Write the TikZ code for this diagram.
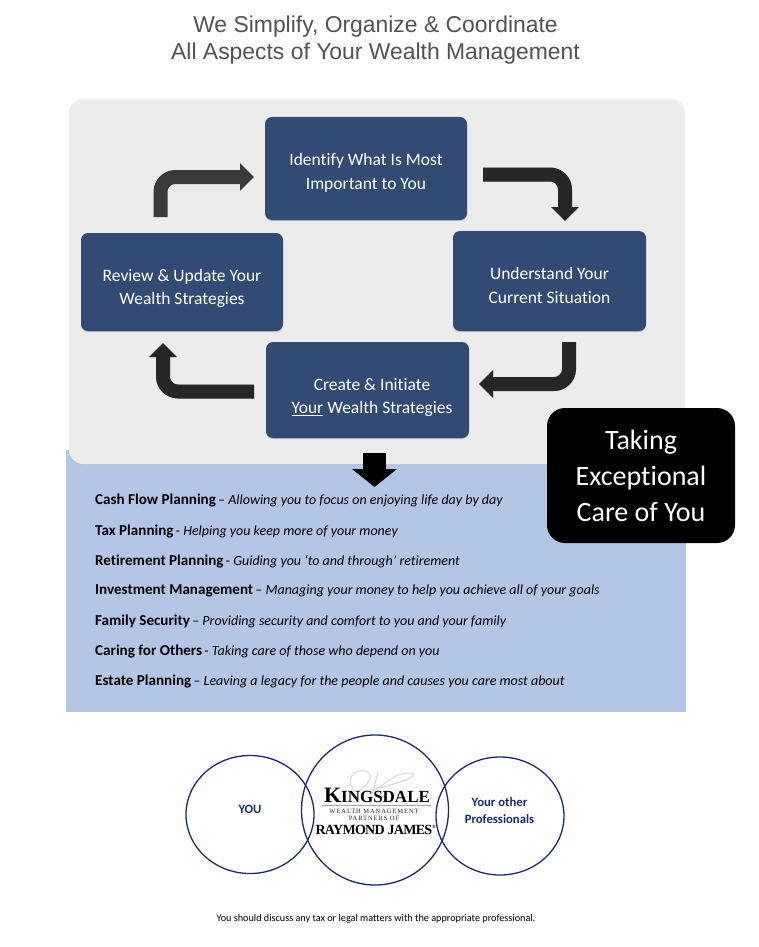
\documentclass[tikz,border=0pt]{standalone}
\usepackage{fontspec}
\setmainfont{Carlito}[Ligatures=NoCommon]
\newfontfamily\titlefont{Liberation Sans}
\newfontfamily\logofont{Liberation Serif}
\newfontfamily\logospaced[LetterSpace=14]{Liberation Serif}
\newfontfamily\rjfont[LetterSpace=-5]{Liberation Serif}
\usetikzlibrary{arrows.meta,shadows,calc,shapes.geometric}
\definecolor{panelgray}{HTML}{ECECEC}
\definecolor{panelblue}{HTML}{B3C6E5}
\definecolor{boxblue}{HTML}{324B74}
\definecolor{ringblue}{HTML}{1A2A6C}
\definecolor{arrowdark}{HTML}{262626}
\definecolor{arrowmid}{HTML}{3A3A3A}
\newcommand{\planbold}[1]{{\fontsize{15.1}{16}\selectfont\bfseries #1}}
\newcommand{\planital}[1]{{\fontsize{14}{16}\selectfont\itshape #1}}
\tikzset{
  stagebox/.style={fill=boxblue,rounded corners=7pt,inner sep=0pt,
    drop shadow={shadow xshift=0pt,shadow yshift=-1pt,fill=black,opacity=.2}},
  stagetext/.style={text=white,align=center,inner sep=0pt,font=\fontsize{17.5}{23.5}\selectfont},
  turnarrow/.style={draw=#1,line width=14pt,rounded corners=15pt,
    -{Triangle[length=14pt,width=27pt,fill=#1,color=#1]}},
  turnshadow/.style={draw=black,opacity=.22,line width=14pt,rounded corners=15pt,
    -{Triangle[length=14pt,width=27pt]},shift={(1pt,2pt)}},
  planline/.style={anchor=west,inner sep=0pt},
  ring/.style={draw=ringblue,line width=1.3pt,ellipse,inner sep=0pt},
  ringtext/.style={text=ringblue,align=center,font=\fontsize{12.7}{17}\selectfont\bfseries},
}
\begin{document}
\begin{tikzpicture}[x=1pt,y=-1pt]
\useasboundingbox (0,0) rectangle (759,947);
\fill[white] (0,0) rectangle (759,947);
% title
\node (title) at (375.5,40) [align=center,text=black!68,inner sep=0pt,font=\titlefont\fontsize{22.9}{26.5}\selectfont]
  {We Simplify, Organize \& Coordinate\\All Aspects of Your Wealth Management};
% panels
\fill[panelblue] (66,450) rectangle (686,712);
\fill[black!25,opacity=.5,rounded corners=14pt] (69,100) rectangle (685,465);
\fill[panelgray,rounded corners=14pt] (69,99) rectangle (685,464);
% stage boxes
\node[stagebox,minimum width=202pt,minimum height=103pt] (identify) at (366,168.5) {};
\node[stagebox,minimum width=193pt,minimum height=100pt] (understand) at (549.5,281) {};
\node[stagebox,minimum width=203pt,minimum height=96pt] (create) at (367.5,390) {};
\node[stagebox,minimum width=202pt,minimum height=98pt] (review) at (182,282) {};
\node[stagetext] (identifyt) at ($(identify)+(0,4.5)$) {Identify What Is Most\\Important to You};
\node[stagetext] (understandt) at ($(understand)+(0,4.5)$) {Understand Your\\Current Situation};
\node[stagetext] (createt) at ($(create)+(4.5,7.5)$) {Create \& Initiate\\\underline{Your} Wealth Strategies};
\node[stagetext] (reviewt) at ($(review)+(0,6.5)$) {Review \& Update Your\\Wealth Strategies};
% arrows
\coordinate (a1s) at (160.5,217);
\coordinate (a1b) at (160.5,177);
\coordinate (a1e) at (254,177);
\coordinate (a2s) at (483,174.5);
\coordinate (a2b) at (565,174.5);
\coordinate (a2e) at (565,221);
\coordinate (a3s) at (569,342);
\coordinate (a3b) at (569,384);
\coordinate (a3e) at (479,384);
\coordinate (a4s) at (254,391.5);
\coordinate (a4b) at (163,391.5);
\coordinate (a4e) at (163,343);
\draw[turnshadow] (a2s) -- (a2b) -- (a2e);
\draw[turnshadow] (a3s) -- (a3b) -- (a3e);
\draw[turnshadow] (a4s) -- (a4b) -- (a4e);
\draw[turnarrow=arrowmid] (a1s) -- (a1b) -- (a1e);
\draw[turnarrow=arrowdark] (a2s) -- (a2b) -- (a2e);
\draw[turnarrow=arrowdark] (a3s) -- (a3b) -- (a3e);
\draw[turnarrow=arrowdark] (a4s) -- (a4b) -- (a4e);
% down arrow
\coordinate (d1) at (374.5,453);
\coordinate (d2) at (374.5,487);
\draw[line width=23pt,-{Triangle[length=18pt,width=44pt]},black] (d1) -- (d2);
% plan list
\node[planline] (p1) at (95,500.5) {\planbold{Cash Flow Planning} \planital{\upshape– \itshape Allowing you to focus on enjoying life day by day}};
\node[planline] (p2) at (95,531) {\planbold{Tax Planning} \planital{\upshape- \itshape Helping you keep more of your money}};
\node[planline] (p3) at (95,561) {\planbold{Retirement Planning} \planital{\upshape- \itshape Guiding you ‘to and through’ retirement}};
\node[planline] (p4) at (95,591) {\planbold{Investment Management} \planital{\upshape– \itshape Managing your money to help you achieve all of your goals}};
\node[planline] (p5) at (95,621) {\planbold{Family Security} \planital{\upshape– \itshape Providing security and comfort to you and your family}};
\node[planline] (p6) at (95,651.5) {\planbold{Caring for Others} \planital{\upshape- \itshape Taking care of those who depend on you}};
\node[planline] (p7) at (95,681.5) {\planbold{Estate Planning} \planital{\upshape– \itshape Leaving a legacy for the people and causes you care most about}};
% black box
\node[fill=black,rounded corners=18pt,text=white,align=center,inner sep=0pt,minimum width=188pt,minimum height=135pt,
  font=\fontsize{28}{36}\selectfont] (care) at (641,475.5) {Taking\\Exceptional\\Care of You};
% rings
\node[ring,minimum width=128pt,minimum height=118pt] (you) at (250,814.5) {};
\node[ring,minimum width=147pt,minimum height=150pt] (firm) at (375,810) {};
\node[ring,minimum width=128pt,minimum height=118pt] (others) at (500,816) {};
\node[ringtext] (yout) at (250,809) {YOU};
\node[ringtext] (otherst) at (499.5,811) {Your other\\Professionals};
% logo
\draw[black!16,line width=1pt] (356,792) .. controls (346,784) and (350,772) .. (360,771) .. controls (368,770) and (372,774) .. (370,778)
  .. controls (368,784) and (362,790) .. (356,792);
\draw[black!16,line width=1pt] (378,772) -- (370,804);
\draw[black!16,line width=1pt] (372,790) .. controls (386,786) and (404,782) .. (413,776) .. controls (416,772) and (404,772) .. (396,776)
  .. controls (386,782) and (378,788) .. (374,790) .. controls (380,794) and (386,800) .. (392,803);
\node[inner sep=0pt,font=\logofont\bfseries] (king) at (377,795.5)
  {\fontsize{22}{22}\selectfont K\fontsize{17}{22}\selectfont INGSDALE};
\draw[black!35,line width=.4pt] (322,805) -- (431,805);
\node[inner sep=0pt,text=black!85,font=\logospaced\fontsize{6.5}{7}\selectfont,align=center] (wm) at (374,814.5)
  {WEALTH MANAGEMENT\\PARTNERS OF};
\node[inner sep=0pt,font=\rjfont\bfseries\fontsize{14}{16}\selectfont] (rj) at (376,829.5) {RAYMOND JAMES\textsuperscript{\tiny®}};
% note
\node[inner sep=0pt,font=\fontsize{10.2}{12}\selectfont] (note) at (376,918.5) {You should discuss any tax or legal matters with the appropriate professional.};
\end{tikzpicture}
\end{document}
